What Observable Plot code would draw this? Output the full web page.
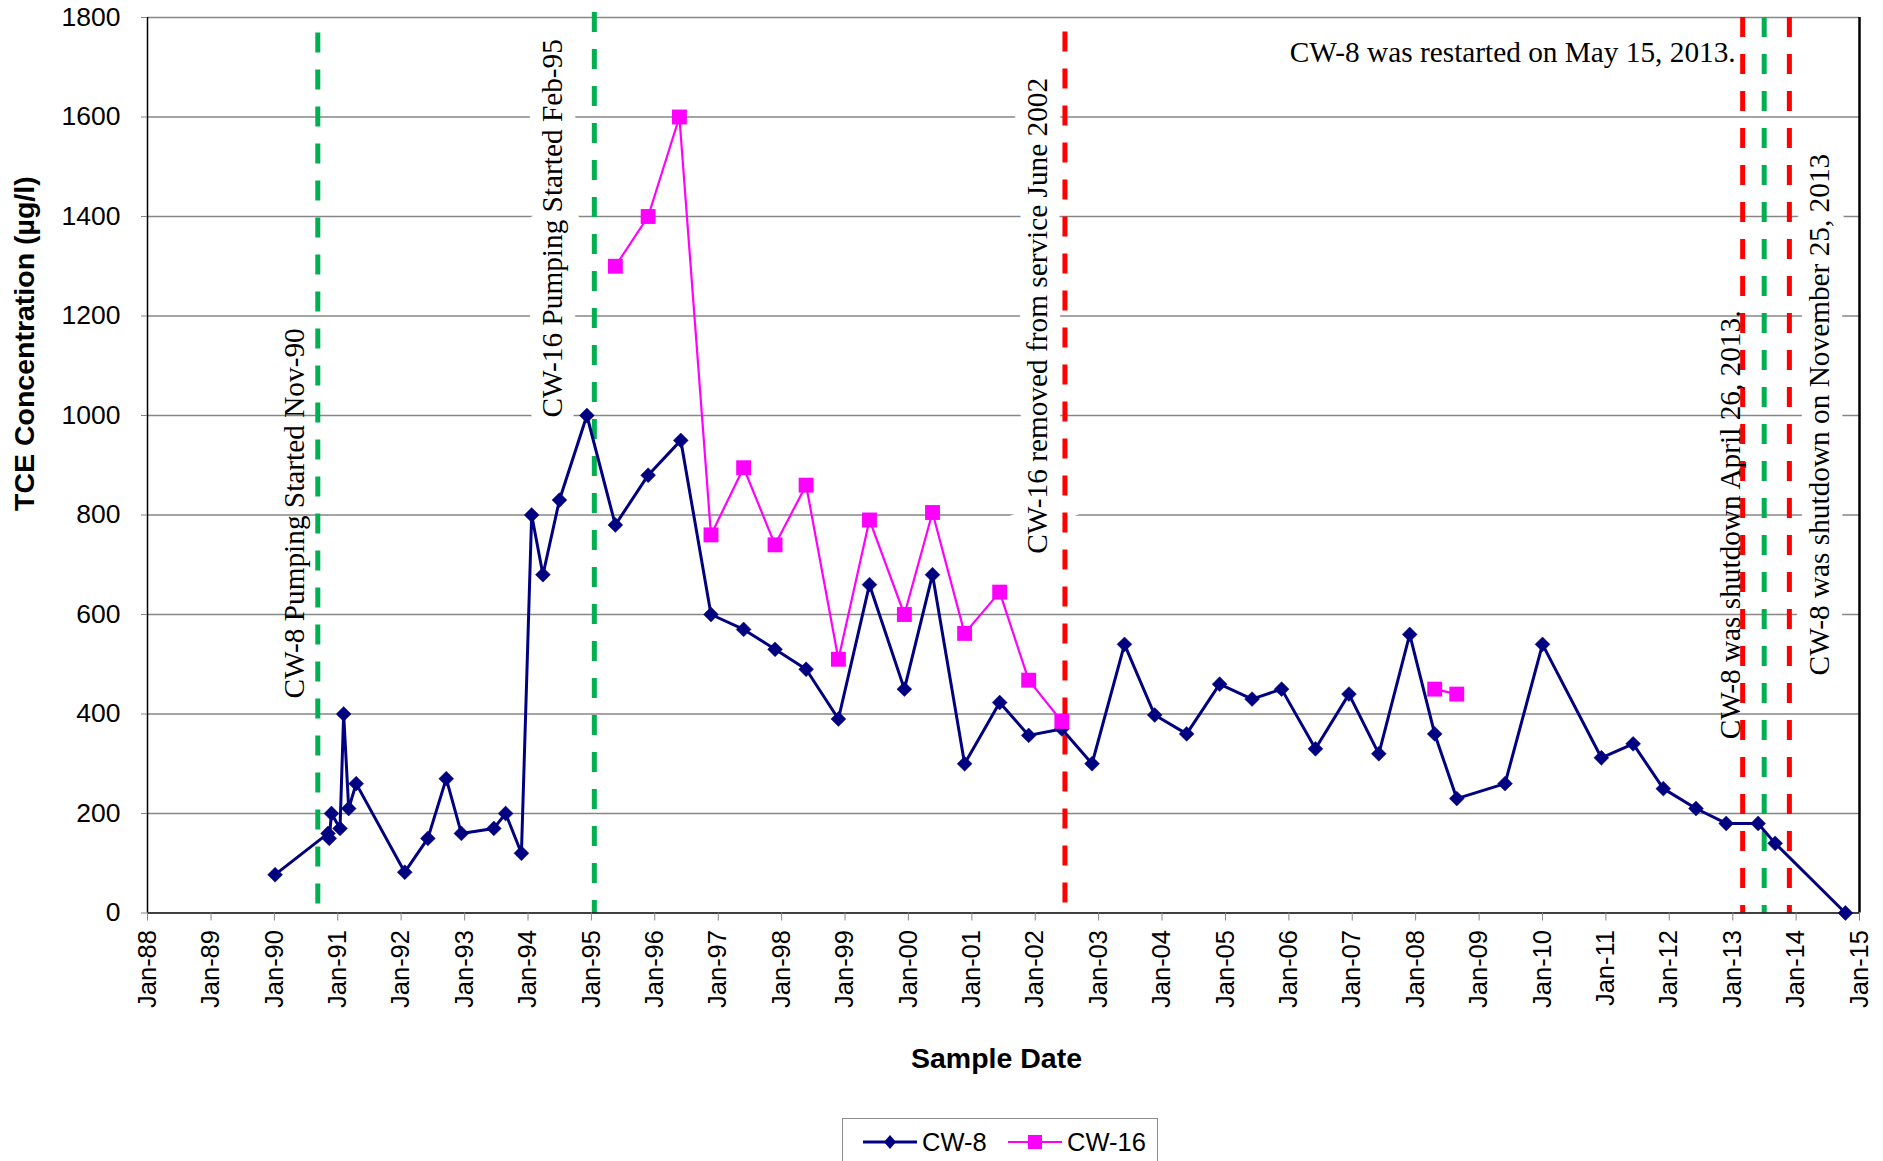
<!DOCTYPE html>
<html>
<head>
<meta charset="utf-8">
<script src="https://cdn.jsdelivr.net/npm/d3@7"></script>
<script src="https://cdn.jsdelivr.net/npm/@observablehq/plot@0.6"></script>
<style>
  html, body { margin: 0; padding: 0; background: #fff; overflow: hidden; }
  #wrap { position: relative; width: 1883px; height: 1161px; }
  #legend { position: absolute; left: 842px; top: 1118px; width: 316px; height: 60px;
            border: 1.5px solid #8c8c8c; box-sizing: border-box; background: #fff;
            font-family: "Liberation Sans", Arial, sans-serif; font-size: 25.5px; color: #000; }
  #legend .item { position: absolute; top: 0; height: 46px; display: flex; align-items: center; }
  #legend svg { display: block; margin-right: 5px; }
</style>
</head>
<body>
<div id="wrap"></div>
<script>
// ---------------- data ----------------
const cw8Dates = [
  "1990-01-05", "1990-11-06", "1990-11-13", "1990-11-26", "1991-01-14", "1991-02-04", "1991-03-05", "1991-04-17",
  "1992-01-22", "1992-06-03", "1992-09-17", "1992-12-13", "1993-06-18", "1993-08-25", "1993-11-24",
  "1994-01-22", "1994-03-28", "1994-07-01", "1994-12-06", "1995-05-19", "1995-11-24", "1996-05-30",
  "1996-11-20", "1997-05-27", "1997-11-24", "1998-05-22", "1998-11-24", "1999-05-22", "1999-12-09",
  "2000-05-19", "2000-11-20", "2001-06-10", "2001-11-24", "2002-06-03", "2002-11-24", "2003-05-30",
  "2003-11-20", "2004-05-22", "2004-11-28", "2005-06-03", "2005-11-20", "2006-06-03", "2006-12-13",
  "2007-06-03", "2007-11-28", "2008-04-20", "2008-08-25", "2009-05-30", "2010-01-01", "2010-12-06",
  "2011-06-07", "2011-11-28", "2012-06-03", "2012-11-24", "2013-05-27", "2013-09-02", "2014-10-12"
];
const cw8Values = [
  77, 160, 150, 200, 170, 400, 210, 260,
  82, 150, 270, 160, 170, 200, 120,
  800, 680, 830, 1000, 780, 880, 950,
  600, 570, 530, 490, 390, 660, 450,
  680, 300, 423, 357, 370, 300, 540,
  398, 360, 460, 430, 450, 330, 440,
  320, 560, 360, 230, 260, 540, 312,
  340, 250, 210, 180, 180, 140, 0
];
const cw16Dates = [
  "1995-05-19", "1995-11-24", "1996-05-22", "1996-11-20", "1997-05-27", "1997-11-24", "1998-05-22",
  "1998-11-24", "1999-05-22", "1999-12-09", "2000-05-19", "2000-11-20", "2001-06-10", "2001-11-24",
  "2002-06-03", null, "2008-04-20", "2008-08-25"
];
const cw16Values = [
  1300, 1400, 1600, 760, 895, 740, 860,
  510, 790, 600, 805, 562, 645, 468,
  385, null, 450, 440
];
const seriesNames = ["CW-8", "CW-16"];
const yTicks = [0, 200, 400, 600, 800, 1000, 1200, 1400, 1600, 1800];
const tickYears = [1988, 1989, 1990, 1991, 1992, 1993, 1994, 1995, 1996, 1997, 1998, 1999, 2000, 2001,
                   2002, 2003, 2004, 2005, 2006, 2007, 2008, 2009, 2010, 2011, 2012, 2013, 2014, 2015];
const eventDates = ["1990-09-08", "1995-01-18", "2002-06-21", "2013-02-27", "2013-07-01", "2013-11-23"];
const eventKinds = ["start", "start", "stop", "stop", "start", "stop"];
const notes = [
  "CW-8 Pumping Started Nov-90",
  "CW-16 Pumping Started Feb-95",
  "CW-16 removed from service June 2002",
  "CW-8 was restarted on May 15, 2013.",
  "CW-8 was shutdown April 26, 2013.",
  "CW-8 was shutdown on November 25, 2013"
];
const noteEvent = [0, 1, 2, 3, 3, 5];
const xTitle = "Sample Date";
const yTitle = "TCE Concentration (µg/l)";

// ---------------- build ----------------
const parse = s => s == null ? null : new Date(s + "T00:00:00Z");
const cw8 = cw8Dates.map((d, i) => ({date: parse(d), value: cw8Values[i]}));
const cw16 = cw16Dates.map((d, i) => ({date: parse(d), value: cw16Values[i]}));
const ev = eventDates.map(parse);
const tickDates = tickYears.map(y => new Date(Date.UTC(y, 0, 1)));

const NAVY = "#000080", MAGENTA = "#FF00FF", GREEN = "#00B050", RED = "#FF0000";
const GRID = "#868686";
const SERIF = "'Liberation Serif', 'Times New Roman', serif";
const SANS = "'Liberation Sans', Arial, sans-serif";
const NOTE_SIZE = 29.3;

const eventTop = [1769, 1810, 1771, 1800, 1800, 1800];

const marks = [];
// horizontal gridlines
marks.push(Plot.ruleY(yTicks.filter(v => v > 0), {stroke: GRID, strokeWidth: 1.3}));

function note(i, y, dx, opts = {}) {
  const e = ev[noteEvent[i]];
  return Plot.text([notes[i]], {
    x: () => e, y: () => y, text: d => d, dx,
    rotate: opts.rotate ?? -90,
    textAnchor: opts.textAnchor ?? "start",
    lineAnchor: "bottom",
    fontFamily: SERIF, fontSize: NOTE_SIZE, fill: "black",
    ...(opts.halo ? {stroke: "white", strokeWidth: 26, strokeLinejoin: "miter"} : {})
  });
}
// boxed annotations (white backing)
marks.push(note(1, 996, -32, {halo: true}));
marks.push(note(2, 722, -18, {halo: true}));
marks.push(note(5, 477.6, 40, {halo: true}));

// vertical dashed event lines
ev.forEach((d, i) => {
  marks.push(Plot.ruleX([d], {
    x: v => v, y1: () => eventTop[i], y2: () => 0,
    stroke: eventKinds[i] === "start" ? GREEN : RED,
    strokeWidth: 5, strokeDasharray: "20,17"
  }));
});

// plain annotations
marks.push(note(0, 431, -13.5));
marks.push(note(4, 349, -3));
marks.push(note(3, 1711.5, -7, {rotate: 0, textAnchor: "end"}));

// frame lines
marks.push(Plot.ruleY([0], {stroke: "black", strokeWidth: 1.5}));
marks.push(Plot.ruleX([tickDates[0]], {stroke: "black", strokeWidth: 1.5}));
marks.push(Plot.ruleX([tickDates[tickDates.length - 1]], {stroke: "black", strokeWidth: 2.5}));

// series
marks.push(Plot.line(cw8, {x: "date", y: "value", stroke: NAVY, strokeWidth: 3}));
marks.push(Plot.dot(cw8, {x: "date", y: "value", symbol: "diamond2", r: 6.7, fill: NAVY, stroke: NAVY, strokeWidth: 0.5}));
marks.push(Plot.line(cw16, {x: "date", y: "value", stroke: MAGENTA, strokeWidth: 2.2}));
marks.push(Plot.dot(cw16, {x: "date", y: "value", symbol: "square", r: 8.4, fill: MAGENTA, stroke: "none"}));

// axes
marks.push(Plot.axisY({ticks: yTicks, tickFormat: d => String(d), tickSize: 6, tickPadding: 21, fontSize: 26.5,
  stroke: GRID, fill: "black", label: null, fontFamily: SANS}));
marks.push(Plot.axisX({ticks: tickDates, tickFormat: d3.utcFormat("%b-%y"), tickRotate: -90,
  tickSize: 8, tickPadding: 9, fontSize: 25.5, stroke: GRID, fill: "black", label: null, fontFamily: SANS}));

// axis titles
marks.push(Plot.text([xTitle], {frameAnchor: "bottom", text: d => d, dy: 154.5, dx: -7,
  lineAnchor: "bottom", fontSize: 28.5, fontWeight: "bold", fontFamily: SANS, fill: "black"}));
marks.push(Plot.text([yTitle], {frameAnchor: "left", text: d => d, rotate: -90, dx: -113.5, dy: 45.75,
  lineAnchor: "bottom", fontSize: 28.5, fontWeight: "bold", fontFamily: SANS, fill: "black"}));

const chart = Plot.plot({
  width: 1883, height: 1100,
  marginLeft: 147, marginRight: 24, marginTop: 17, marginBottom: 187.5,
  x: {type: "utc", domain: [tickDates[0], tickDates[tickDates.length - 1]]},
  y: {domain: [0, 1800]},
  style: {background: "white", fontFamily: SANS, overflow: "visible", color: "black"},
  marks
});
const wrap = document.getElementById("wrap");
wrap.appendChild(chart);

// legend
const legend = document.createElement("div");
legend.id = "legend";
const legendDefs = [
  {name: seriesNames[0], color: NAVY, sym: "diamond", left: 20, width: 54},
  {name: seriesNames[1], color: MAGENTA, sym: "square", left: 165, width: 54}
];
legendDefs.forEach(s => {
  const item = document.createElement("div");
  item.className = "item";
  item.style.left = s.left + "px";
  const ns = "http://www.w3.org/2000/svg";
  const svg = document.createElementNS(ns, "svg");
  svg.setAttribute("width", s.width); svg.setAttribute("height", 20);
  const ln = document.createElementNS(ns, "line");
  ln.setAttribute("x1", 0); ln.setAttribute("x2", s.width); ln.setAttribute("y1", 10); ln.setAttribute("y2", 10);
  ln.setAttribute("stroke", s.color); ln.setAttribute("stroke-width", s.sym === "diamond" ? 2.8 : 2.2);
  svg.appendChild(ln);
  const c = s.width / 2;
  if (s.sym === "diamond") {
    const p = document.createElementNS(ns, "path");
    p.setAttribute("d", `M${c},3 L${c + 6},10 L${c},17 L${c - 6},10 Z`);
    p.setAttribute("fill", s.color);
    svg.appendChild(p);
  } else {
    const r = document.createElementNS(ns, "rect");
    r.setAttribute("x", c - 7); r.setAttribute("y", 3); r.setAttribute("width", 14); r.setAttribute("height", 14);
    r.setAttribute("fill", s.color);
    svg.appendChild(r);
  }
  item.appendChild(svg);
  const t = document.createElement("span");
  t.textContent = s.name;
  item.appendChild(t);
  legend.appendChild(item);
});
wrap.appendChild(legend);
</script>
</body>
</html>
